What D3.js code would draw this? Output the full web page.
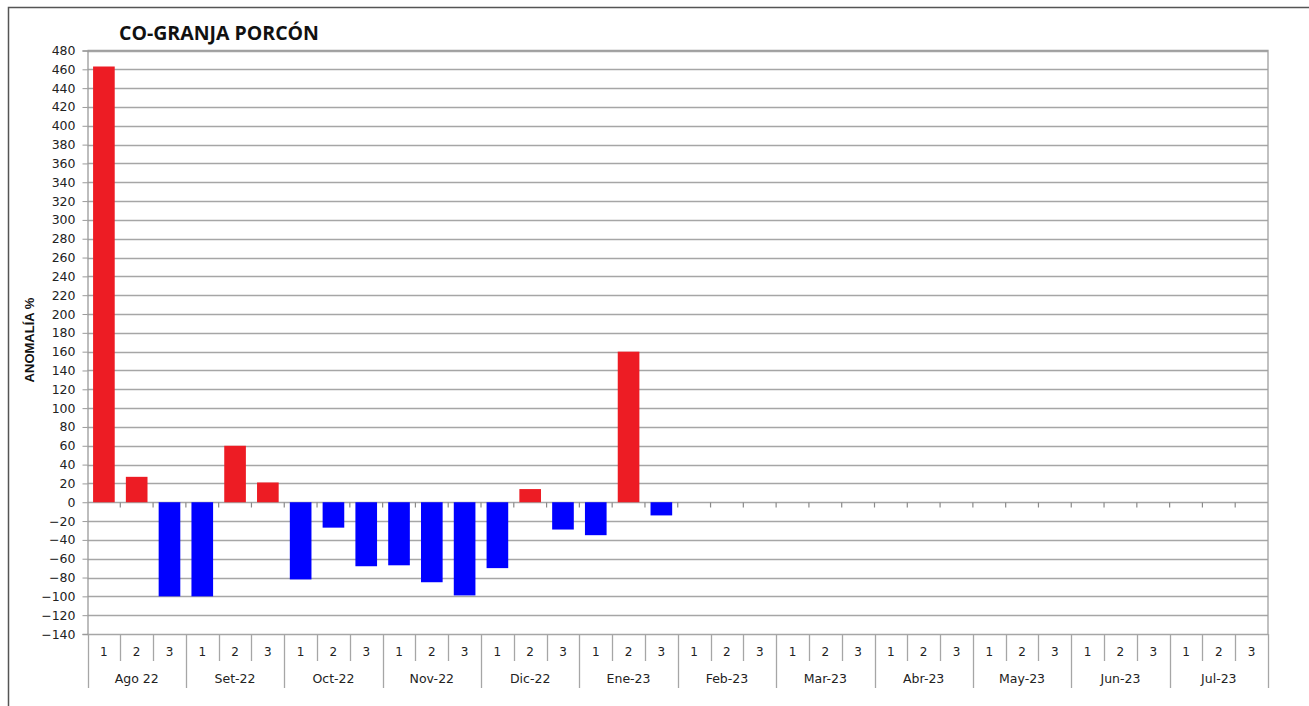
<!DOCTYPE html>
<html>
<head>
<meta charset="utf-8">
<script src="https://cdn.jsdelivr.net/npm/d3@7"></script>
<style>
  html, body { margin: 0; padding: 0; background: #fff; }
  svg { display: block; }
</style>
</head>
<body>
<svg id="chart" width="1309" height="706"></svg>
<script>
// Monthly groups, each split into three dekads (1, 2, 3)
const months = ["Ago 22", "Set-22", "Oct-22", "Nov-22", "Dic-22", "Ene-23",
                "Feb-23", "Mar-23", "Abr-23", "May-23", "Jun-23", "Jul-23"];
const dekads = ["1", "2", "3"];

// Precipitation anomaly (%) per dekad; null = not yet observed
const anomaly = [
  463, 27, -100,
  -100, 60, 21,
  -82, -27, -68,
  -67, -85, -99,
  -70, 14, -29,
  -35, 160, -14,
  null, null, null,
  null, null, null,
  null, null, null,
  null, null, null,
  null, null, null,
  null, null, null
];

const yTicks = d3.range(-140, 481, 20);

const svg = d3.select("#chart");
const m = { left: 87.5, right: 1268, top: 50.5, bottom: 634 };

const cats = months.flatMap((mo, i) => dekads.map(d => `${i}|${d}`));
const data = cats.map((key, i) => ({ key, month: months[Math.floor(i / 3)], dekad: dekads[i % 3], value: anomaly[i] }));

const x = d3.scaleBand().domain(cats).range([m.left, m.right]).paddingInner(0.34).paddingOuter(0.17);
const y = d3.scaleLinear().domain([-140, 480]).range([m.bottom, m.top]);
const step = x.step();
const groupX = i => m.left + i * step * 3;

// outer frame
svg.append("path")
  .attr("d", "M8.5,706 L8.5,7.5 L1309,7.5")
  .attr("fill", "none").attr("stroke", "#555").attr("stroke-width", 1.5);

// title
svg.append("text")
  .attr("x", 219).attr("y", 40)
  .attr("text-anchor", "middle")
  .attr("font-family", "'Open Sans', 'Liberation Sans', sans-serif")
  .attr("font-weight", "bold").attr("font-size", 19.5).attr("fill", "#111")
  .text("CO-GRANJA PORCÓN");

// horizontal gridlines
svg.append("g").selectAll("line").data(yTicks).join("line")
  .attr("x1", m.left).attr("x2", m.right)
  .attr("y1", d => Math.round(y(d)) + 0.5).attr("y2", d => Math.round(y(d)) + 0.5)
  .attr("stroke", "#a6a6a6").attr("stroke-width", 1.3);

// plot area border (top/right)
svg.append("path")
  .attr("d", `M${m.left},${m.top} L${m.right},${m.top} L${m.right},${m.bottom}`)
  .attr("fill", "none").attr("stroke", "#a0a0a0").attr("stroke-width", 1.3);

// y axis
const yAxis = d3.axisLeft(y).tickValues(yTicks).tickSize(5).tickPadding(7);
const gy = svg.append("g").attr("transform", `translate(${m.left},0)`).call(yAxis);
gy.select(".domain").attr("stroke", "#9a9a9a").attr("stroke-width", 1.3);
gy.selectAll(".tick line").attr("stroke", "#9a9a9a");
gy.selectAll(".tick text")
  .attr("font-family", "'DejaVu Sans', Verdana, sans-serif")
  .attr("font-size", 12.5).attr("fill", "#222");

// y axis title
svg.append("text")
  .attr("transform", "translate(34,340) rotate(-90)")
  .attr("text-anchor", "middle")
  .attr("font-family", "'Liberation Sans Narrow', 'Liberation Sans', sans-serif")
  .attr("font-weight", "bold").attr("font-size", 13).attr("fill", "#111")
  .text("ANOMALÍA %");

// bars
svg.append("g").selectAll("rect").data(data.filter(d => d.value !== null)).join("rect")
  .attr("x", d => x(d.key))
  .attr("width", x.bandwidth())
  .attr("y", d => y(Math.max(0, d.value)))
  .attr("height", d => Math.abs(y(d.value) - y(0)))
  .attr("fill", d => d.value >= 0 ? "#ED1C24" : "#0000FF");

// zero-line tick marks between dekads
const y0 = Math.round(y(0)) + 0.5;
svg.append("g").selectAll("line").data(d3.range(1, cats.length)).join("line")
  .attr("x1", i => m.left + i * step).attr("x2", i => m.left + i * step)
  .attr("y1", y0).attr("y2", y0 + 5)
  .attr("stroke", "#8a8a8a").attr("stroke-width", 1.2);

// category axis: dekad dividers, month dividers
const gx = svg.append("g");
gx.selectAll("line.dek").data(d3.range(0, cats.length + 1)).join("line")
  .attr("class", "dek")
  .attr("x1", i => Math.round(m.left + i * step) + 0.5).attr("x2", i => Math.round(m.left + i * step) + 0.5)
  .attr("y1", m.bottom).attr("y2", i => i % 3 === 0 ? 688 : 661)
  .attr("stroke", "#a6a6a6").attr("stroke-width", 1.3);

gx.selectAll("text.dek").data(data).join("text")
  .attr("class", "dek")
  .attr("x", d => x(d.key) + x.bandwidth() / 2)
  .attr("y", 656)
  .attr("text-anchor", "middle")
  .attr("font-family", "'DejaVu Sans', Verdana, sans-serif")
  .attr("font-size", 12).attr("fill", "#222")
  .text(d => d.dekad);

gx.selectAll("text.mon").data(months).join("text")
  .attr("class", "mon")
  .attr("x", (d, i) => groupX(i) + step * 1.5)
  .attr("y", 683)
  .attr("text-anchor", "middle")
  .attr("font-family", "'DejaVu Sans', Verdana, sans-serif")
  .attr("font-size", 12.5).attr("fill", "#222")
  .text(d => d);
</script>
</body>
</html>
